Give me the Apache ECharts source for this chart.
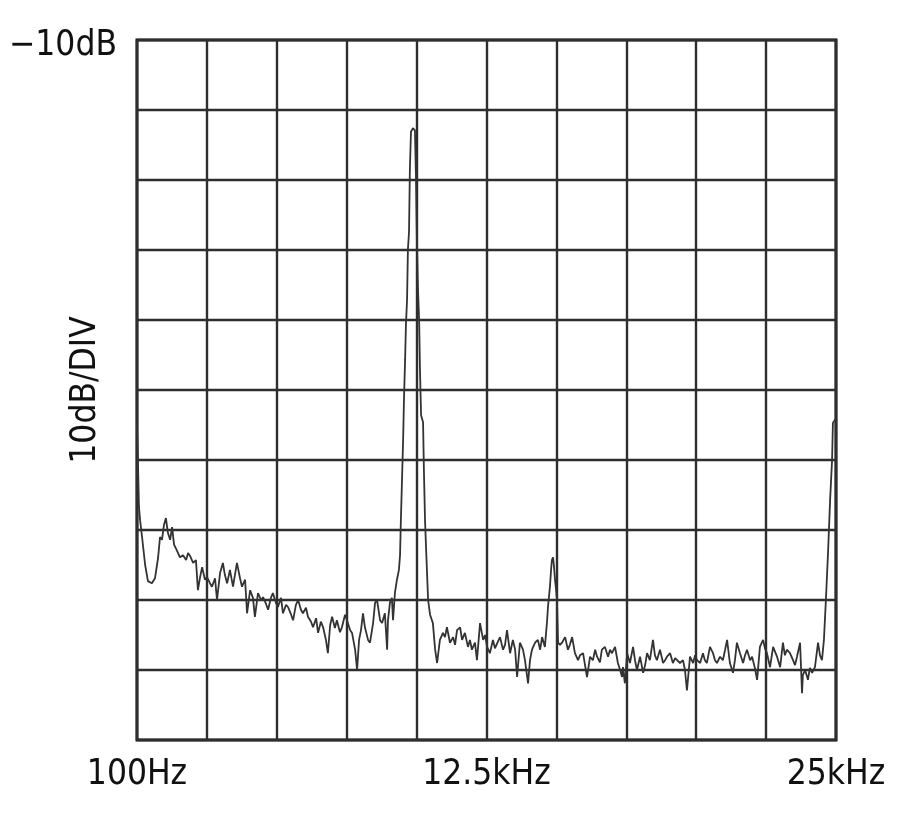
<!DOCTYPE html>
<html>
<head>
<meta charset="utf-8">
<script src="https://cdn.jsdelivr.net/npm/echarts@6/dist/echarts.min.js"></script>
<style>
html,body{margin:0;padding:0;background:#fff;}
#chart{width:900px;height:818px;}
</style>
</head>
<body>
<div id="chart"></div>
<script>
// spectrum trace (kHz / dB)
var freqKHz=[
    0.10,0.14,0.17,0.21,0.28,0.39,0.49,0.63,0.74,0.85,
    0.92,0.99,1.06,1.13,1.20,1.28,1.35,1.42,1.52,1.63,
    1.74,1.85,1.92,1.99,2.10,2.20,2.27,2.34,2.42,2.52,
    2.59,2.70,2.77,2.88,2.95,3.06,3.16,3.23,3.31,3.41,
    3.52,3.66,3.77,3.84,3.95,4.02,4.13,4.23,4.30,4.41,
    4.52,4.59,4.70,4.77,4.87,4.94,5.05,5.12,5.23,5.30,
    5.41,5.48,5.59,5.66,5.76,5.84,5.94,6.01,6.12,6.19,
    6.30,6.37,6.48,6.55,6.65,6.73,6.83,6.90,6.98,7.05,
    7.15,7.22,7.33,7.40,7.51,7.58,7.69,7.76,7.87,7.94,
    8.01,8.08,8.15,8.22,8.33,8.40,8.51,8.58,8.65,8.76,
    8.83,8.93,9.01,9.04,9.11,9.18,9.22,9.29,9.36,9.43,
    9.47,9.50,9.54,9.58,9.61,9.65,9.68,9.72,9.75,9.79,
    9.82,9.86,9.93,10.00,10.04,10.07,10.11,10.15,10.18,10.22,
    10.29,10.32,10.36,10.40,10.47,10.54,10.64,10.72,10.79,10.89,
    11.00,11.07,11.14,11.25,11.36,11.43,11.50,11.61,11.68,11.78,
    11.89,11.96,12.03,12.14,12.21,12.32,12.43,12.50,12.57,12.67,
    12.78,12.85,12.92,13.03,13.14,13.21,13.28,13.39,13.49,13.57,
    13.64,13.74,13.85,13.92,14.03,14.10,14.17,14.28,14.38,14.46,
    14.53,14.63,14.71,14.74,14.81,14.85,14.88,14.92,14.95,14.99,
    15.03,15.06,15.10,15.17,15.24,15.35,15.45,15.52,15.60,15.70,
    15.81,15.88,15.99,16.06,16.13,16.24,16.34,16.42,16.49,16.59,
    16.66,16.77,16.88,16.95,17.02,17.13,17.23,17.31,17.38,17.41,
    17.48,17.56,17.66,17.77,17.84,17.91,18.02,18.13,18.20,18.27,
    18.37,18.48,18.55,18.62,18.73,18.84,18.91,18.98,19.09,19.19,
    19.27,19.34,19.44,19.55,19.62,19.69,19.80,19.91,19.98,20.05,
    20.16,20.26,20.33,20.40,20.51,20.62,20.69,20.76,20.87,20.97,
    21.05,21.12,21.22,21.33,21.40,21.47,21.58,21.69,21.76,21.83,
    21.94,22.01,22.11,22.19,22.29,22.40,22.47,22.54,22.65,22.76,
    22.83,22.90,23.01,23.11,23.18,23.25,23.36,23.47,23.54,23.61,
    23.72,23.79,23.82,23.90,24.00,24.07,24.15,24.25,24.36,24.43,
    24.50,24.57,24.64,24.72,24.79,24.86,24.89,24.96,25.00
];
var levelDb=[
    -65.0,-71.4,-76.7,-78.6,-81.0,-85.0,-87.3,-87.6,-86.9,-84.0,
    -81.0,-81.4,-79.3,-78.3,-80.4,-81.4,-79.6,-82.1,-82.9,-83.9,
    -83.6,-84.3,-83.3,-83.7,-84.7,-84.3,-88.6,-86.9,-85.3,-87.1,
    -86.7,-87.6,-88.1,-86.9,-90.0,-86.1,-84.7,-86.4,-87.6,-85.7,
    -88.1,-84.7,-86.9,-88.1,-87.1,-91.9,-88.6,-89.7,-92.4,-89.0,
    -90.0,-89.6,-90.6,-91.4,-89.7,-89.0,-90.4,-91.0,-89.7,-91.9,
    -90.7,-91.0,-92.1,-92.9,-90.7,-90.0,-91.4,-91.9,-91.1,-92.4,
    -93.1,-93.9,-92.6,-94.7,-93.1,-93.9,-95.7,-97.6,-93.6,-92.4,
    -94.0,-92.9,-94.6,-93.9,-92.1,-92.9,-94.3,-94.7,-97.1,-100.0,
    -95.7,-94.3,-91.9,-93.9,-95.7,-96.1,-93.3,-90.4,-90.0,-92.9,
    -93.3,-91.9,-97.1,-92.9,-90.4,-89.7,-92.9,-88.9,-87.1,-85.7,
    -83.6,-78.6,-72.9,-67.1,-61.4,-55.7,-50.7,-47.1,-40.0,-37.4,
    -28.6,-23.1,-22.6,-22.9,-30.0,-38.6,-45.7,-50.0,-57.1,-63.6,
    -64.6,-71.4,-78.6,-82.9,-90.0,-92.1,-93.3,-97.1,-99.0,-95.7,
    -94.7,-95.3,-93.9,-96.1,-95.3,-96.4,-94.3,-93.9,-95.7,-94.7,
    -96.7,-95.7,-97.1,-96.1,-98.6,-93.3,-95.7,-95.0,-96.7,-97.6,
    -95.7,-96.9,-96.7,-95.3,-97.1,-96.4,-94.3,-97.6,-95.7,-97.1,
    -101.0,-96.1,-97.1,-98.6,-101.9,-98.6,-97.1,-96.1,-95.7,-97.1,
    -95.3,-96.7,-92.9,-91.0,-88.1,-85.7,-84.3,-83.9,-85.0,-87.1,
    -88.6,-90.0,-96.1,-96.4,-96.1,-95.3,-97.1,-96.4,-95.3,-97.6,
    -98.6,-97.9,-97.6,-99.3,-101.0,-98.1,-98.6,-97.1,-98.1,-98.9,
    -97.1,-96.7,-98.1,-97.1,-97.6,-96.7,-99.0,-100.0,-101.0,-99.6,
    -101.9,-97.6,-99.0,-96.7,-98.6,-100.0,-98.1,-100.4,-99.3,-97.6,
    -98.6,-95.7,-97.9,-98.6,-97.1,-99.0,-98.6,-98.1,-97.6,-99.0,
    -98.3,-98.1,-99.0,-98.6,-100.0,-102.9,-98.1,-99.0,-97.9,-98.6,
    -99.0,-97.6,-98.6,-99.0,-96.7,-97.6,-98.6,-99.0,-98.1,-98.6,
    -97.1,-95.7,-99.0,-100.4,-98.6,-96.1,-97.6,-99.0,-97.9,-97.1,
    -98.6,-98.1,-99.7,-101.4,-96.7,-95.7,-96.9,-97.6,-99.6,-96.7,
    -97.4,-98.1,-99.6,-96.1,-97.9,-97.1,-97.6,-98.6,-99.3,-98.1,
    -96.1,-103.3,-100.7,-100.0,-101.4,-99.7,-100.4,-99.6,-96.1,-97.9,
    -98.6,-95.7,-90.0,-82.9,-75.7,-70.0,-64.7,-64.3,-64.0
];
var xTickDivs=[0,5,10];
var xTickLabels=['100Hz','12.5kHz','25kHz'];
var yTopLabel='\u221210dB';
var yScaleName='10dB/DIV';

var font="'Liberation Sans Narrow','DejaVu Sans Condensed','Liberation Sans',sans-serif";
var chart=echarts.init(document.getElementById('chart'));
var trace=[];
for(var a=0;a<freqKHz.length;a++)trace.push([freqKHz[a],levelDb[a]]);

var option={
    animation:false,
    backgroundColor:'#fff',
    grid:{
        left:137,right:64,top:40,bottom:78,
        show:true,borderColor:'#111',borderWidth:3,
        outerBoundsMode:'none'
    },
    xAxis:[
        {   // frequency scale for the trace
            type:'value',min:0.1,max:25,show:false,position:'top'
        },
        {   // 10 divisions, just for the grid and the three labels
            type:'value',min:0,max:10,interval:1,position:'bottom',
            axisLine:{show:false},axisTick:{show:false},
            splitLine:{show:true,lineStyle:{color:'#2e2e2e',width:2.4}},
            axisLabel:{
                margin:17,fontSize:35,color:'#111',fontFamily:font,
                showMinLabel:true,showMaxLabel:true,
                formatter:function(v){
                    var i=xTickDivs.indexOf(v);
                    return i<0?'':xTickLabels[i];
                }
            }
        }
    ],
    yAxis:{
        type:'value',min:-110,max:-10,interval:10,
        axisLine:{show:false},axisTick:{show:false},
        splitLine:{show:true,lineStyle:{color:'#2e2e2e',width:2.4}},
        axisLabel:{
            margin:20,color:'#111',
            showMaxLabel:true,
            formatter:function(v){return v===-10?'{t|'+yTopLabel+'}':'';},
            rich:{t:{fontSize:35,color:'#111',fontFamily:font,padding:[12,0,0,0]}}
        },
        name:yScaleName,nameLocation:'middle',nameRotate:90,nameGap:34,
        nameMoveOverlap:false,
        nameTextStyle:{fontSize:35,color:'#111',fontFamily:font}
    },
    series:[{
        type:'line',
        xAxisIndex:0,yAxisIndex:0,
        data:trace,
        showSymbol:false,symbol:'none',
        clip:true,
        lineStyle:{color:'#333',width:1.8}
    }]
};
chart.setOption(option);
</script>
</body>
</html>
